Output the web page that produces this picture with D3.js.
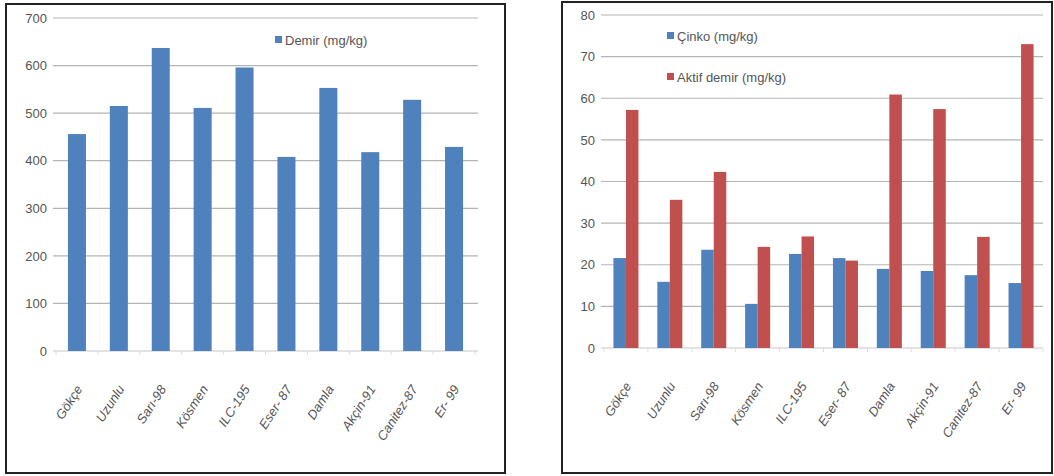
<!DOCTYPE html>
<html>
<head>
<meta charset="utf-8">
<script src="https://cdn.jsdelivr.net/npm/d3@7"></script>
<style>
  html, body { margin: 0; padding: 0; background: #fff; }
  svg { display: block; }
  text { font-family: "Liberation Sans", Arial, sans-serif; fill: #555; }
</style>
</head>
<body>
<svg id="chart" width="1054" height="476"></svg>
<script>
// Varieties (shared by both panels)
const varieties = ["Gökçe", "Uzunlu", "Sarı-98", "Kösmen", "ILC-195", "Eser- 87", "Damla", "Akçin-91", "Canitez-87", "Er- 99"];

// Left panel: total iron
const ironSeriesName = "Demir (mg/kg)";
const ironValues = [456, 515, 637, 511, 596, 408, 553, 418, 528, 429];
const ironTicks = [0, 100, 200, 300, 400, 500, 600, 700];

// Right panel: zinc and active iron
const zincSeriesName = "Çinko (mg/kg)";
const zincValues = [21.6, 15.9, 23.6, 10.6, 22.6, 21.6, 19.0, 18.5, 17.5, 15.6];
const activeIronSeriesName = "Aktif demir (mg/kg)";
const activeIronValues = [57.2, 35.6, 42.3, 24.3, 26.8, 21.0, 60.9, 57.4, 26.7, 73.0];
const rightTicks = [0, 10, 20, 30, 40, 50, 60, 70, 80];

const BLUE = "#4f81bd";
const RED = "#c0504d";

const svg = d3.select("#chart");

function panelFrame(x0, y0, x1, y1) {
  svg.append("rect")
    .attr("x", x0).attr("y", y0)
    .attr("width", x1 - x0).attr("height", y1 - y0)
    .attr("fill", "#fff").attr("stroke", "#222").attr("stroke-width", 2);
}

function drawAxes(g, x, y, ticks, width) {
  // horizontal gridlines
  g.append("g")
    .selectAll("line")
    .data(ticks)
    .join("line")
    .attr("x1", -3).attr("x2", width)
    .attr("y1", d => y(d)).attr("y2", d => y(d))
    .attr("stroke", d => d === 0 ? "#c8c8c8" : "#b4b4b4")
    .attr("stroke-width", 1.2);

  // vertical axis labels
  const ya = g.append("g").call(d3.axisLeft(y).tickValues(ticks).tickSize(0).tickPadding(9));
  ya.select(".domain").remove();
  ya.selectAll("text").style("font-size", "13px").attr("fill", "#666");

  // category tick marks along baseline
  g.append("g")
    .selectAll("line")
    .data(d3.range(varieties.length + 1))
    .join("line")
    .attr("x1", i => i * x.step()).attr("x2", i => i * x.step())
    .attr("y1", y(0)).attr("y2", y(0) + 4)
    .attr("stroke", "#ddd");

  // rotated category labels
  g.append("g")
    .selectAll("text")
    .data(varieties)
    .join("text")
    .attr("transform", d => `translate(${x(d) + x.bandwidth() / 2 + 6},${y(0) + 38}) rotate(-57)`)
    .attr("text-anchor", "end")
    .style("font-size", "13px")
    .style("font-style", "italic")
    .attr("fill", "#555")
    .text(d => d);
}

// ---------- Left panel ----------
panelFrame(6, 4, 505, 473);
{
  const left = 56, top = 18, width = 419, height = 333;
  const g = svg.append("g").attr("transform", `translate(${left},${top})`);
  const x = d3.scaleBand().domain(varieties).range([0, width]).paddingInner(0).paddingOuter(0);
  const y = d3.scaleLinear().domain([0, 700]).range([height, 0]);

  drawAxes(g, x, y, ironTicks, width + 3);

  const bw = x.bandwidth() * 0.43;
  g.append("g")
    .selectAll("rect")
    .data(varieties.map((v, i) => ({ v, val: ironValues[i] })))
    .join("rect")
    .attr("x", d => x(d.v) + (x.bandwidth() - bw) / 2)
    .attr("width", bw)
    .attr("y", d => y(d.val))
    .attr("height", d => y(0) - y(d.val))
    .attr("fill", BLUE);

  const lg = svg.append("g").attr("transform", "translate(275,40)");
  lg.append("rect").attr("x", 0).attr("y", -4).attr("width", 7).attr("height", 7).attr("fill", BLUE);
  lg.append("text").attr("x", 10).attr("y", 0).attr("dy", "0.35em")
    .style("font-size", "13px").attr("fill", "#555").text(ironSeriesName);
}

// ---------- Right panel ----------
panelFrame(562, 2, 1052, 473);
{
  const left = 604, top = 15, width = 439, height = 333;
  const g = svg.append("g").attr("transform", `translate(${left},${top})`);
  const x = d3.scaleBand().domain(varieties).range([0, width]).paddingInner(0).paddingOuter(0);
  const y = d3.scaleLinear().domain([0, 80]).range([height, 0]);

  drawAxes(g, x, y, rightTicks, width);

  const groupW = x.bandwidth() * 0.57;
  const sub = d3.scaleBand().domain(["zinc", "active"]).range([0, groupW]);
  const rows = varieties.map((v, i) => ({ v, zinc: zincValues[i], active: activeIronValues[i] }));
  const colors = { zinc: BLUE, active: RED };

  ["zinc", "active"].forEach(key => {
    g.append("g")
      .selectAll("rect")
      .data(rows)
      .join("rect")
      .attr("x", d => x(d.v) + (x.bandwidth() - groupW) / 2 + sub(key))
      .attr("width", sub.bandwidth())
      .attr("y", d => y(d[key]))
      .attr("height", d => y(0) - y(d[key]))
      .attr("fill", colors[key]);
  });

  const legendItems = [
    { name: zincSeriesName, color: BLUE, y: 36 },
    { name: activeIronSeriesName, color: RED, y: 77 }
  ];
  const lg = svg.append("g").attr("transform", "translate(667,0)");
  legendItems.forEach(it => {
    lg.append("rect").attr("x", 0).attr("y", it.y - 4).attr("width", 7).attr("height", 7).attr("fill", it.color);
    lg.append("text").attr("x", 10).attr("y", it.y).attr("dy", "0.35em")
      .style("font-size", "13px").attr("fill", "#555").text(it.name);
  });
}
</script>
</body>
</html>
